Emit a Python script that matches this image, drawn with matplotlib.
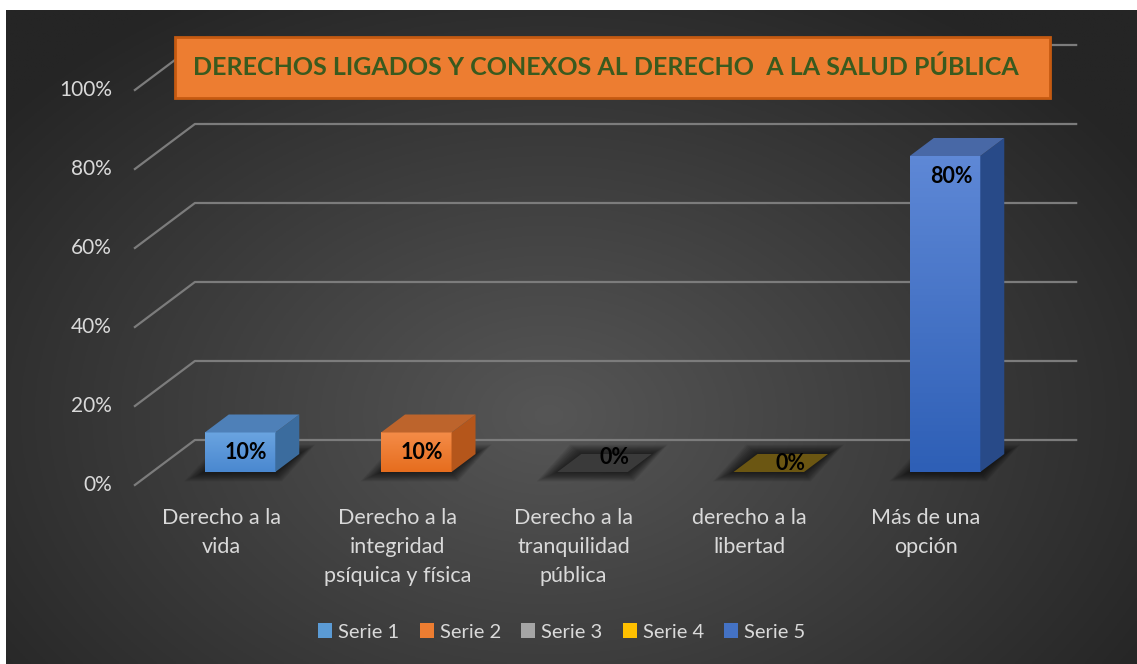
import matplotlib
matplotlib.use("Agg")
import matplotlib.pyplot as plt
import numpy as np
from matplotlib.patches import Patch, Polygon, Rectangle

plt.rcParams["font.family"] = ["Lato", "DejaVu Sans"]

# data
categories = [
    "Derecho a la\nvida",
    "Derecho a la\nintegridad\npsíquica y física",
    "Derecho a la\ntranquilidad\npública",
    "derecho a la\nlibertad",
    "Más de una\nopción",
]
values = [10, 10, 0, 0, 80]
series_names = ["Serie 1", "Serie 2", "Serie 3", "Serie 4", "Serie 5"]
y_ticks = [0, 20, 40, 60, 80, 100]
title = "DERECHOS LIGADOS Y CONEXOS AL DERECHO  A LA SALUD PÚBLICA"

# styles
legend_colors = ["#5b9bd5", "#ed7d31", "#a5a5a5", "#ffc000", "#4472c4"]
face_top = ["#6aa4e0", "#f48c48", "#b0b0b0", "#ffc000", "#5e88d6"]
face_bottom = ["#4a88d0", "#e66d1e", "#8f8f8f", "#e6ad00", "#2e5fb6"]
side_colors = ["#3b6c9e", "#b5561b", "#5a5a5a", "#8a6d00", "#284a88"]
top_colors = ["#4e80b8", "#bd642c", "#3a3a3a", "#6b5612", "#4868a6"]
text_color = "#d9d9d9"
grid_color = "#7c7c7c"

W, H = 1137, 664
BAR_W = 0.40
BAR_D = (24, 18)      # bar depth in pixels
FRONT = (-17, -13)    # front wall offset from bar plane
BACK = (43, 32)       # back wall offset from bar plane

fig = plt.figure(figsize=(W / 100, H / 100), dpi=100, facecolor="white")

# background panel with radial gradient
bg = fig.add_axes([6 / W, 0, 1 - 6 / W, (H - 10) / H], zorder=-5)
gx, gy = np.meshgrid(np.linspace(0, 1, 400), np.linspace(0, 1, 240))
d = np.sqrt(((gx - 0.48) / 0.62) ** 2 + ((gy - 0.62) / 0.75) ** 2)
d = np.clip(d, 0, 1)
c0 = np.array([0x56, 0x56, 0x56]) / 255
c1 = np.array([0x25, 0x25, 0x25]) / 255
img = c0[None, None, :] * (1 - d[..., None]) + c1[None, None, :] * d[..., None]
bg.imshow(img, aspect="auto", extent=(0, 1, 0, 1), origin="upper")
bg.set_axis_off()

ax = fig.add_axes([151.9 / W, 192 / H, 881.25 / W, 395 / H])
ax.set_xlim(-0.5, 4.5)
ax.set_ylim(0, 100)
ax.set_autoscale_on(False)
ax.set_axis_off()
ax.patch.set_alpha(0)


def px(x, v, off=(0, 0)):
    p = ax.transData.transform((x, v))
    return (p[0] + off[0], p[1] + off[1])


def poly(pts, **kw):
    p = Polygon(pts, closed=True, transform=None, clip_on=False, **kw)
    ax.add_artist(p)
    return p


# gridlines on back and side walls
for t in y_ticks:
    a = px(-0.5, t, FRONT)
    b = px(-0.5, t, BACK)
    c = px(4.5, t, BACK)
    ax.add_artist(plt.Line2D([a[0], b[0], c[0]], [a[1], b[1], c[1]], transform=None,
                             clip_on=False, color=grid_color, lw=1.6, zorder=1))
    ax.text(a[0] - 23, a[1], f"{t}%", transform=None, ha="right", va="center",
            color=text_color, fontsize=15)

# bars
for i, v in enumerate(values):
    x0, x1 = i - BAR_W / 2, i + BAR_W / 2
    fl, fr = px(x0, 0), px(x1, 0)
    tl, tr = px(x0, v), px(x1, v)
    # soft shadow under the bar
    cx = (fl[0] + fr[0] + BAR_D[0]) / 2 + 6
    cy = fl[1] + BAR_D[1] / 2
    base = [fl, fr, (fr[0] + BAR_D[0], fr[1] + BAR_D[1]), (fl[0] + BAR_D[0], fl[1] + BAR_D[1])]
    for k in range(12):
        s = 1.0 + 0.035 * k
        pts = [(cx + (p[0] - cx) * s, cy + (p[1] - cy) * (s + 0.06 * k)) for p in base]
        poly(pts, facecolor="black", edgecolor="none", alpha=0.065, zorder=2)
    if v > 0:
        # front face with vertical gradient
        grad = np.linspace(0, 1, 100)[:, None, None]
        ct = np.array(matplotlib.colors.to_rgb(face_top[i]))
        cb = np.array(matplotlib.colors.to_rgb(face_bottom[i]))
        face = ct * (1 - grad) + cb * grad
        ax.imshow(face, extent=(x0, x1, 0, v), aspect="auto", origin="upper", zorder=4)
        # side face
        poly([fr, tr, (tr[0] + BAR_D[0], tr[1] + BAR_D[1]), (fr[0] + BAR_D[0], fr[1] + BAR_D[1])],
             facecolor=side_colors[i], edgecolor="none", zorder=4)
    # top face
    poly([tl, tr, (tr[0] + BAR_D[0], tr[1] + BAR_D[1]), (tl[0] + BAR_D[0], tl[1] + BAR_D[1])],
         facecolor=top_colors[i], edgecolor="none", zorder=4)
    # data label
    if v > 0:
        lx, ly = px(i, v, (6, -20))
    else:
        lx, ly = px(i, v, (22, 14 - 6 * (i - 2)))
    ax.text(lx, ly, f"{v}%", transform=None, ha="center", va="center",
            fontsize=15.5, fontweight="bold", color="black", zorder=6)
    # category label
    cxl, cyl = px(i, 0, (FRONT[0] - 2, FRONT[1] - 23))
    ax.text(cxl, cyl, categories[i], transform=None, ha="center", va="top",
            color=text_color, fontsize=15.5, linespacing=1.55)

# title box
fig.patches.append(Rectangle((175 / W, 1 - 98 / H), 875 / W, 61 / H, transform=fig.transFigure,
                             facecolor="#ed7d31", edgecolor="#c55a11", lw=2, zorder=10))
fig.text(606 / W, 1 - 67 / H, title, ha="center", va="center", color="#3a5a1e",
         fontsize=18, fontweight="bold", zorder=11)

# legend
handles = [Patch(facecolor=c, edgecolor="none", label=s) for c, s in zip(legend_colors, series_names)]
fig.legend(handles=handles, loc="center", bbox_to_anchor=(562 / W, 32 / H), ncol=5,
           frameon=False, fontsize=14.5, labelcolor=text_color, handlelength=0.7,
           handleheight=0.7, handletextpad=0.3, columnspacing=1.0)

fig.savefig("out.png", dpi=100, facecolor="white")
